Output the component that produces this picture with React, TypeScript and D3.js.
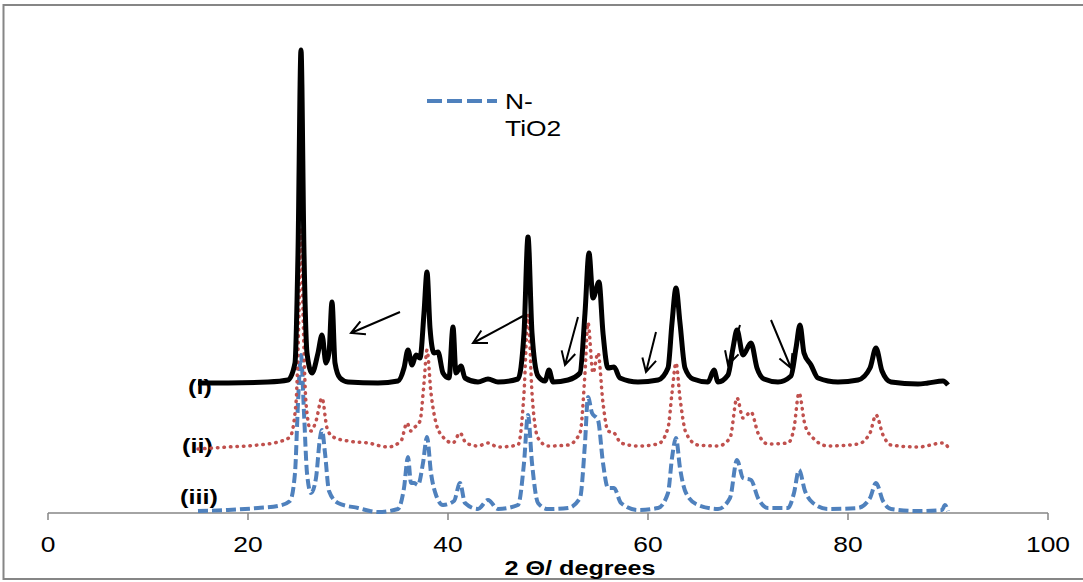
import React from 'react';
import * as d3 from 'd3';

const W = 1083;
const H = 582;

// x-axis ticks and title
const xTicks = [0, 20, 40, 60, 80, 100];
const xTitle = '2 Θ/ degrees';
const legendLines = ['N-', 'TiO2'];
const seriesNames = ['(i)', '(ii)', '(iii)'];

// Pattern (i) — black, solid  [2θ, intensity a.u.]
const patternI: [number, number][] = [
  [15, 130], [18, 130], [22, 131], [24, 133], [24.7, 150], [25.0, 260], [25.3, 463], [25.6, 260], [25.9, 160],
  [26.4, 140], [27.0, 160], [27.4, 178], [27.8, 150], [28.1, 160], [28.4, 211], [28.7, 150], [29.2, 135],
  [30, 131], [33, 130], [35, 132], [35.6, 145], [36.0, 163], [36.4, 148], [36.8, 158], [37.2, 155], [37.6, 200],
  [37.9, 241], [38.2, 185], [38.6, 160], [39.0, 161], [39.5, 140], [40.1, 135], [40.5, 186], [40.8, 140],
  [41.3, 147], [41.7, 135], [43, 131], [44, 134], [45, 131], [47, 134], [47.6, 180], [48.0, 276], [48.4, 180],
  [49.0, 137], [49.7, 132], [50.1, 143], [50.5, 131], [52, 133], [53.2, 140], [53.7, 200], [54.1, 260],
  [54.5, 215], [55.1, 231], [55.5, 180], [56.0, 145], [56.6, 146], [57.2, 135], [59, 131], [61, 133],
  [62.0, 145], [62.4, 190], [62.8, 225], [63.2, 190], [63.7, 145], [64.5, 134], [66.0, 131], [66.6, 143],
  [67, 131], [68.0, 138], [68.5, 165], [68.9, 183], [69.5, 158], [70.3, 170], [70.9, 145], [71.6, 134],
  [73, 131], [74.3, 137], [74.8, 165], [75.2, 188], [75.6, 160], [76.3, 148], [77, 135], [79, 131], [81, 133],
  [82.2, 145], [82.8, 165], [83.4, 142], [84.3, 131], [87, 129], [88, 130], [89.5, 132], [90, 128],
];

// Pattern (ii) — red, dotted
const patternII: [number, number][] = [
  [15, 64], [18, 66], [21, 68], [23, 71], [24.2, 76], [24.8, 110], [25.1, 200], [25.3, 285], [25.5, 200],
  [25.8, 110], [26.3, 82], [26.8, 92], [27.4, 115], [27.9, 85], [28.5, 76], [30, 72], [32, 70], [34, 66],
  [35.3, 72], [35.9, 90], [36.3, 82], [36.7, 86], [37.2, 92], [37.6, 130], [37.9, 163], [38.3, 120], [38.8, 90],
  [39.5, 76], [40.5, 70], [41.2, 80], [41.8, 70], [43, 67], [44, 70], [45, 66], [47, 68], [47.6, 120],
  [48.0, 198], [48.4, 120], [49, 75], [50, 67], [52, 68], [53.2, 80], [53.7, 140], [54.0, 190], [54.5, 140],
  [55.0, 160], [55.5, 110], [56.0, 82], [56.6, 80], [57.3, 70], [59, 67], [61, 69], [62.0, 85], [62.4, 120],
  [62.8, 150], [63.2, 115], [63.8, 80], [65, 68], [67, 67], [68.2, 75], [68.9, 115], [69.5, 95], [70.3, 101],
  [71.0, 80], [72, 69], [74, 70], [74.6, 85], [75.1, 120], [75.7, 88], [76.5, 75], [78, 67], [81, 69],
  [82.2, 80], [82.8, 98], [83.5, 78], [84.3, 68], [87, 66], [89.5, 70], [90, 66],
];

// Pattern (iii) — blue, dashed (N-TiO2)
const patternIII: [number, number][] = [
  [15, 2], [18, 3], [21, 5], [23, 7], [24.2, 12], [24.7, 40], [25.0, 110], [25.3, 158], [25.6, 100], [25.9, 40],
  [26.3, 20], [26.8, 35], [27.2, 75], [27.4, 83], [27.7, 60], [28.1, 22], [29, 10], [31, 5], [33, 1], [35, 4],
  [35.6, 25], [36.0, 56], [36.3, 30], [36.6, 30], [37.0, 28], [37.5, 50], [37.9, 76], [38.3, 40], [38.8, 18],
  [39.5, 8], [40.6, 12], [41.2, 30], [41.7, 10], [43, 4], [44, 13], [45, 4], [47, 8], [47.6, 50], [48.0, 98],
  [48.4, 50], [49.0, 10], [50, 4], [52, 5], [53.2, 15], [53.7, 70], [54.0, 116], [54.4, 100], [55.0, 93],
  [55.5, 50], [56.0, 25], [56.6, 25], [57.3, 10], [59, 3], [61, 5], [62.0, 20], [62.4, 55], [62.8, 75],
  [63.2, 45], [63.8, 20], [65, 8], [67, 4], [68.2, 15], [68.9, 53], [69.5, 35], [70.3, 33], [71.0, 15], [72, 5],
  [74, 5], [74.6, 20], [75.1, 43], [75.7, 22], [76.5, 10], [78, 4], [81, 5], [82.2, 15], [82.8, 30], [83.5, 12],
  [84.3, 4], [87, 2], [89.4, 3], [89.7, 8], [90, 2],
];

// Annotation arrows [x1, y1, x2(tip), y2(tip)] in data units
const arrows: [number, number, number, number][] = [
  [35.2, 201, 30.3, 180],
  [47.5, 197, 42.5, 170],
  [53.0, 196, 51.7, 148],
  [60.8, 181, 59.8, 141],
  [69.2, 188, 68.0, 148],
  [72.3, 193, 74.3, 145],
];

// label anchor points (data units)
const seriesLabelPos: [number, number][] = [[14.0, 119], [13.4, 60], [13.2, 9]];

const FONT = '"Liberation Sans", Arial, sans-serif';
const STRETCH = 1.2;

export default function App() {
  const x = d3.scaleLinear().domain([0, 100]).range([48, 1048]);
  const y = d3.scaleLinear().domain([0, 500]).range([513, 13]);
  const line = d3
    .line<[number, number]>()
    .x((d) => x(d[0]))
    .y((d) => y(d[1]))
    .curve(d3.curveMonotoneX);

  const arrowHead = (a: [number, number, number, number]) => {
    const x1 = x(a[0]), y1 = y(a[1]), x2 = x(a[2]), y2 = y(a[3]);
    const ang = Math.atan2(y1 - y2, x1 - x2);
    const L = 15, spread = (28 * Math.PI) / 180;
    const p1 = [x2 + L * Math.cos(ang + spread), y2 + L * Math.sin(ang + spread)];
    const p2 = [x2 + L * Math.cos(ang - spread), y2 + L * Math.sin(ang - spread)];
    return `M${x1},${y1}L${x2},${y2}M${p1[0]},${p1[1]}L${x2},${y2}L${p2[0]},${p2[1]}`;
  };

  const stretchText = (
    tx: number,
    ty: number,
    txt: string,
    size: number,
    anchor: 'start' | 'middle' | 'end',
    bold = false,
    key?: string
  ) => (
    <text
      key={key}
      transform={`translate(${tx},${ty}) scale(${STRETCH},1)`}
      fontFamily={FONT}
      fontSize={size}
      fontWeight={bold ? 'bold' : 'normal'}
      textAnchor={anchor}
      fill="#000"
    >
      {txt}
    </text>
  );

  return (
    <svg
      width={W}
      height={H}
      style={{ position: 'absolute', left: 0, top: 0, background: '#fff' }}
    >
      <rect x={0} y={0} width={W} height={H} fill="#fff" />
      <rect x={3.5} y={5} width={1200} height={574} fill="none" stroke="#868686" strokeWidth={2} />

      {/* x axis */}
      <line x1={x(0)} x2={x(100)} y1={y(0)} y2={y(0)} stroke="#868686" strokeWidth={1.5} />
      {xTicks.map((t) => (
        <line key={'t' + t} x1={x(t)} x2={x(t)} y1={y(0)} y2={y(0) + 7} stroke="#868686" strokeWidth={1.5} />
      ))}
      {xTicks.map((t) => stretchText(x(t), 552, String(t), 22, 'middle', false, 'l' + t))}
      {stretchText(580, 575, xTitle, 21, 'middle', true)}

      {/* series labels (drawn under curves) */}
      {seriesNames.map((s, i) =>
        stretchText(x(seriesLabelPos[i][0]), y(seriesLabelPos[i][1]), s, 21, 'start', true, s)
      )}

      {/* curves */}
      <path d={line(patternIII) || ''} fill="none" stroke="#4F81BD" strokeWidth={4} strokeDasharray="10 4" />
      <path
        d={line(patternII) || ''}
        fill="none"
        stroke="#C0504D"
        strokeWidth={3.5}
        strokeDasharray="0.5 6"
        strokeLinecap="round"
      />
      <path d={line(patternI) || ''} fill="none" stroke="#000" strokeWidth={5} strokeLinejoin="round" />

      {/* arrows */}
      {arrows.map((a, i) => (
        <path key={'a' + i} d={arrowHead(a)} fill="none" stroke="#000" strokeWidth={2} />
      ))}

      {/* legend */}
      <line x1={427} x2={497} y1={101} y2={101} stroke="#4F81BD" strokeWidth={4} strokeDasharray="15 5" />
      {stretchText(505, 109, legendLines[0], 22, 'start')}
      {stretchText(505, 136, legendLines[1], 22, 'start')}
    </svg>
  );
}
